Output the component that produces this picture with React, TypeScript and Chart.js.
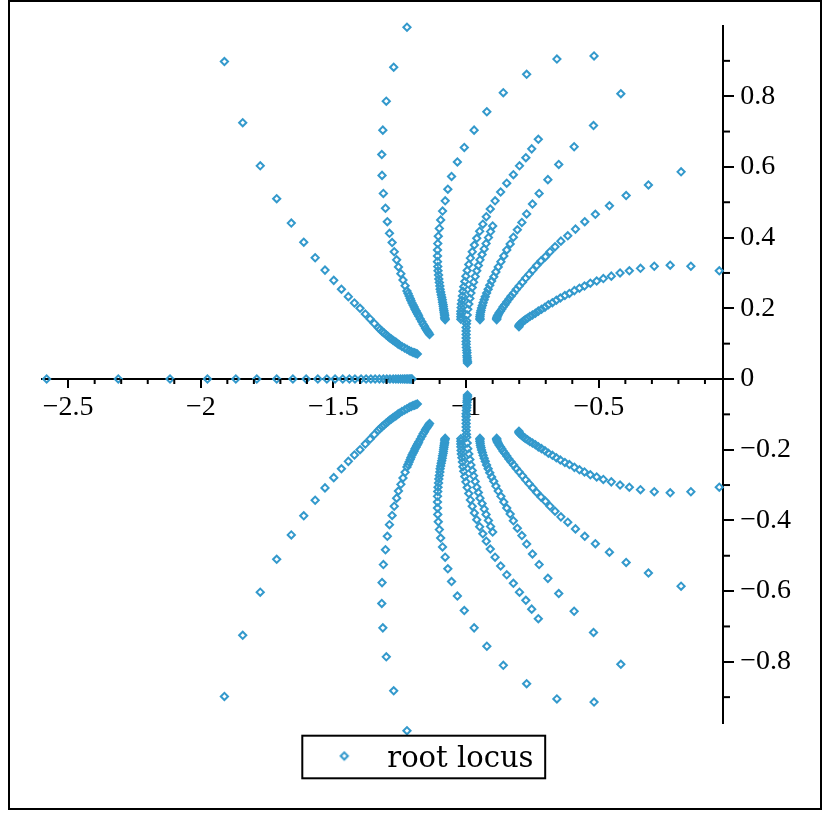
import React, { useEffect, useRef } from 'react';
import { Chart, registerables } from 'chart.js';

Chart.register(...registerables);

// ---- data (upper half-plane branches; the lower half is their complex conjugate) ----
const realAxisRe = [-2.581, -2.311, -2.116, -1.975, -1.868, -1.789, -1.714, -1.653, -1.603, -1.559, -1.525, -1.494, -1.465, -1.44, -1.419, -1.396, -1.377, -1.359, -1.343, -1.327, -1.312, -1.299, -1.287, -1.275, -1.265, -1.256, -1.247, -1.239, -1.232, -1.226, -1.22, -1.215, -1.211, -1.207, -1.204];

const branchARe = [-1.911, -1.842, -1.776, -1.714, -1.659, -1.612, -1.569, -1.532, -1.499, -1.47, -1.444, -1.421, -1.4, -1.38, -1.362, -1.346, -1.331, -1.324, -1.316, -1.309, -1.302, -1.295, -1.289, -1.282, -1.275, -1.269, -1.263, -1.258, -1.252, -1.242, -1.232, -1.223, -1.214, -1.207, -1.2, -1.194, -1.189, -1.184];
const branchAIm = [0.898, 0.725, 0.603, 0.51, 0.441, 0.387, 0.343, 0.308, 0.279, 0.254, 0.233, 0.215, 0.2, 0.184, 0.17, 0.157, 0.145, 0.14, 0.134, 0.13, 0.125, 0.121, 0.117, 0.113, 0.109, 0.106, 0.103, 0.1, 0.097, 0.092, 0.088, 0.084, 0.08, 0.078, 0.075, 0.074, 0.072, 0.071];

const branchBRe = [-1.223, -1.273, -1.301, -1.314, -1.318, -1.317, -1.312, -1.304, -1.297, -1.289, -1.279, -1.271, -1.262, -1.255, -1.246, -1.238, -1.23, -1.223, -1.219, -1.215, -1.211, -1.208, -1.204, -1.2, -1.196, -1.193, -1.189, -1.186, -1.182, -1.179, -1.173, -1.167, -1.162, -1.157, -1.153, -1.148, -1.145, -1.141, -1.138];
const branchBIm = [0.995, 0.882, 0.786, 0.704, 0.635, 0.576, 0.525, 0.483, 0.445, 0.412, 0.386, 0.36, 0.337, 0.317, 0.298, 0.28, 0.264, 0.249, 0.242, 0.235, 0.228, 0.222, 0.215, 0.209, 0.204, 0.198, 0.193, 0.188, 0.183, 0.178, 0.17, 0.162, 0.155, 0.149, 0.143, 0.138, 0.134, 0.13, 0.126];

const branchCRe = [-0.518, -0.658, -0.772, -0.86, -0.922, -0.97, -1.007, -1.033, -1.055, -1.069, -1.079, -1.089, -1.096, -1.101, -1.105, -1.107, -1.108, -1.108, -1.108, -1.107, -1.106, -1.104, -1.103, -1.101, -1.099, -1.098, -1.096, -1.094, -1.092, -1.09, -1.089, -1.087, -1.086, -1.085, -1.084, -1.083, -1.082, -1.081, -1.081, -1.08, -1.079];
const branchCIm = [0.914, 0.905, 0.862, 0.81, 0.756, 0.704, 0.655, 0.614, 0.573, 0.537, 0.504, 0.475, 0.45, 0.426, 0.404, 0.383, 0.365, 0.348, 0.332, 0.318, 0.306, 0.294, 0.283, 0.273, 0.263, 0.254, 0.246, 0.238, 0.231, 0.224, 0.217, 0.211, 0.205, 0.199, 0.194, 0.189, 0.184, 0.18, 0.175, 0.171, 0.168];

const branchDRe = [-0.728, -0.753, -0.775, -0.799, -0.822, -0.847, -0.87, -0.891, -0.909, -0.924, -0.937, -0.949, -0.96, -0.969, -0.977, -0.984, -0.99, -0.996, -1.001, -1.005, -1.009, -1.012, -1.014, -1.016, -1.018, -1.019, -1.02, -1.02, -1.02, -1.02];
const branchDIm = [0.678, 0.651, 0.626, 0.603, 0.578, 0.554, 0.529, 0.504, 0.481, 0.459, 0.438, 0.418, 0.398, 0.379, 0.36, 0.342, 0.324, 0.307, 0.291, 0.276, 0.261, 0.248, 0.235, 0.223, 0.212, 0.202, 0.192, 0.184, 0.176, 0.169];

const branchVRe = [-0.9, -0.908, -0.916, -0.925, -0.932, -0.94, -0.948, -0.954, -0.96, -0.966, -0.972, -0.977, -0.982, -0.986, -0.99, -0.994, -0.996, -0.998, -0.999, -1.0, -1.0, -1.0, -1.0, -1.0, -1.0, -0.999, -0.998, -0.997, -0.997, -0.996, -0.996, -0.995, -0.995];
const branchVIm = [0.433, 0.417, 0.4, 0.383, 0.368, 0.352, 0.337, 0.321, 0.306, 0.29, 0.274, 0.259, 0.243, 0.228, 0.212, 0.197, 0.181, 0.165, 0.156, 0.146, 0.136, 0.126, 0.116, 0.106, 0.098, 0.089, 0.081, 0.074, 0.066, 0.06, 0.054, 0.049, 0.045];

const branchFRe = [-0.417, -0.52, -0.593, -0.651, -0.692, -0.725, -0.75, -0.772, -0.79, -0.807, -0.822, -0.834, -0.847, -0.858, -0.869, -0.879, -0.888, -0.896, -0.904, -0.911, -0.917, -0.923, -0.928, -0.932, -0.936, -0.939, -0.942, -0.944, -0.946, -0.947, -0.948, -0.948, -0.948];
const branchFIm = [0.807, 0.717, 0.657, 0.607, 0.564, 0.525, 0.495, 0.467, 0.443, 0.422, 0.401, 0.382, 0.365, 0.348, 0.332, 0.317, 0.303, 0.289, 0.277, 0.265, 0.254, 0.243, 0.233, 0.224, 0.216, 0.208, 0.201, 0.194, 0.188, 0.182, 0.177, 0.172, 0.168];

const branchGRe = [-0.19, -0.313, -0.397, -0.46, -0.513, -0.553, -0.588, -0.617, -0.643, -0.665, -0.684, -0.701, -0.718, -0.734, -0.749, -0.763, -0.776, -0.788, -0.8, -0.811, -0.821, -0.831, -0.839, -0.847, -0.854, -0.861, -0.866, -0.871, -0.876, -0.879, -0.882, -0.884, -0.885, -0.885];
const branchGIm = [0.586, 0.549, 0.519, 0.49, 0.466, 0.445, 0.424, 0.405, 0.39, 0.374, 0.36, 0.346, 0.334, 0.321, 0.308, 0.296, 0.285, 0.274, 0.263, 0.253, 0.243, 0.234, 0.226, 0.218, 0.21, 0.204, 0.197, 0.192, 0.187, 0.182, 0.178, 0.175, 0.171, 0.168];

const branchHRe = [-0.046, -0.153, -0.231, -0.291, -0.343, -0.385, -0.42, -0.453, -0.483, -0.508, -0.532, -0.554, -0.573, -0.592, -0.611, -0.628, -0.645, -0.66, -0.675, -0.69, -0.703, -0.716, -0.728, -0.739, -0.75, -0.76, -0.769, -0.777, -0.784, -0.79, -0.795, -0.799, -0.801, -0.801];
const branchHIm = [0.306, 0.319, 0.322, 0.319, 0.313, 0.306, 0.3, 0.291, 0.284, 0.277, 0.271, 0.263, 0.257, 0.25, 0.242, 0.236, 0.229, 0.223, 0.216, 0.21, 0.203, 0.197, 0.192, 0.186, 0.181, 0.177, 0.172, 0.168, 0.164, 0.16, 0.157, 0.154, 0.151, 0.148];

const xMajorTicks = [-2.5, -2, -1.5, -1, -0.5];
const xMinorTicks = [-2.4, -2.3, -2.2, -2.1, -1.9, -1.8, -1.7, -1.6, -1.4, -1.3, -1.2, -1.1, -0.9, -0.8, -0.7, -0.6, -0.4, -0.3, -0.2, -0.1];
const yMajorTicks = [-0.8, -0.6, -0.4, -0.2, 0, 0.2, 0.4, 0.6, 0.8];
const yMinorTicks = [-0.9, -0.7, -0.5, -0.3, -0.1, 0.1, 0.3, 0.5, 0.7, 0.9];
const seriesLabel = 'root locus';

const COLOR = '#3399cc';

export default function App() {
  const ref = useRef<HTMLCanvasElement>(null);

  useEffect(() => {
    const canvas = ref.current;
    if (!canvas) return;

    const branches: [number[], number[]][] = [
      [branchARe, branchAIm],
      [branchBRe, branchBIm],
      [branchCRe, branchCIm],
      [branchDRe, branchDIm],
      [branchVRe, branchVIm],
      [branchFRe, branchFIm],
      [branchGRe, branchGIm],
      [branchHRe, branchHIm],
    ];
    const points: { x: number; y: number }[] = [];
    realAxisRe.forEach((x) => points.push({ x, y: 0 }));
    branches.forEach(([re, im]) => {
      re.forEach((x, i) => {
        points.push({ x, y: im[i] });
        points.push({ x, y: -im[i] });
      });
    });

    // legend marker image (diamond, drawn a bit above the text middle)
    const marker = document.createElement('canvas');
    marker.width = 12;
    marker.height = 20;
    const mctx = marker.getContext('2d')!;
    mctx.strokeStyle = COLOR;
    mctx.lineWidth = 2;
    mctx.beginPath();
    mctx.moveTo(2.4, 6.7);
    mctx.lineTo(6, 3.1);
    mctx.lineTo(9.6, 6.7);
    mctx.lineTo(6, 10.3);
    mctx.closePath();
    mctx.stroke();

    const fmt = (v: number) => String(Math.round(v * 10) / 10).replace('-', '\u2212');

    const legendItemX = 305.8;
    const legendShiftY = -6;

    const extras = {
      id: 'extras',
      afterLayout(chart: any) {
        const lg = chart.legend;
        if (!lg) return;
        const pad = lg.options.labels.padding;
        const w = lg.right - lg.left;
        lg.left = legendItemX - pad;
        lg.right = lg.left + w;
        lg.top += legendShiftY;
        lg.bottom += legendShiftY;
      },
      afterDraw(chart: any) {
        const ctx = chart.ctx;
        const xs = chart.scales.x;
        const ys = chart.scales.y;
        ctx.save();
        ctx.strokeStyle = '#000';
        ctx.lineWidth = 2;
        const y0 = ys.getPixelForValue(0);
        xMinorTicks.forEach((v) => {
          const px = xs.getPixelForValue(v);
          ctx.beginPath();
          ctx.moveTo(px, y0);
          ctx.lineTo(px, y0 + 5);
          ctx.stroke();
        });
        const x0 = ys.left;
        yMinorTicks.forEach((v) => {
          const py = ys.getPixelForValue(v);
          ctx.beginPath();
          ctx.moveTo(x0, py);
          ctx.lineTo(x0 + 7, py);
          ctx.stroke();
        });
        const lg = chart.legend;
        if (lg && lg.legendHitBoxes && lg.legendHitBoxes[0]) {
          const hb = lg.legendHitBoxes[0];
          ctx.strokeRect(hb.left - 13.5, hb.top - 9.1, hb.width + 25.2, 42.6);
        }
        ctx.restore();
      },
    };

    const chart = new Chart(canvas, {
      type: 'scatter',
      data: {
        datasets: [
          {
            label: seriesLabel,
            data: points,
            pointStyle: 'rectRot',
            pointRadius: 3.6,
            pointHoverRadius: 14,
            pointBorderWidth: 2,
            pointBorderColor: COLOR,
            pointBackgroundColor: 'rgba(0,0,0,0)',
            borderColor: COLOR,
            backgroundColor: 'rgba(0,0,0,0)',
            showLine: false,
            clip: false,
          } as any,
        ],
      },
      options: {
        responsive: false,
        animation: false,
        events: [],
        layout: { padding: { left: 31.6, top: 23.5, right: 0, bottom: 18.2 } },
        scales: {
          x: {
            type: 'linear',
            position: { y: 0 } as any,
            min: -2.6,
            max: -0.032,
            afterBuildTicks: (s: any) => {
              s.ticks = xMajorTicks.map((value) => ({ value }));
            },
            afterFit: (s: any) => {
              s.height = 0;
              s.paddingLeft = 0;
              s.paddingRight = 0;
            },
            ticks: {
              autoSkip: false,
              maxRotation: 0,
              padding: 4,
              color: '#000',
              font: { family: 'Liberation Serif', size: 28 },
              callback: (v: any) => fmt(Number(v)),
            },
            grid: { drawOnChartArea: false, drawTicks: true, tickLength: 8, lineWidth: 2, color: '#000' },
            border: { display: true, color: '#000', width: 2 },
          },
          y: {
            type: 'linear',
            position: 'right',
            min: -0.972,
            max: 1.0,
            afterBuildTicks: (s: any) => {
              s.ticks = yMajorTicks.map((value) => ({ value }));
            },
            afterFit: (s: any) => {
              s.width = 97;
              s.paddingTop = 0;
              s.paddingBottom = 0;
            },
            ticks: {
              autoSkip: false,
              padding: 6.3,
              color: '#000',
              font: { family: 'Liberation Serif', size: 28 },
              callback: (v: any) => fmt(Number(v)),
            },
            grid: { drawOnChartArea: false, drawTicks: true, tickLength: 11, lineWidth: 2, color: '#000' },
            border: { display: true, color: '#000', width: 2 },
          },
        },
        plugins: {
          tooltip: { enabled: false },
          legend: {
            display: true,
            position: 'bottom',
            align: 'start',
            labels: {
              usePointStyle: true,
              pointStyle: marker as any,
              pointStyleWidth: 57,
              boxHeight: 29,
              padding: 28.2,
              color: '#000',
              font: { family: 'DejaVu Serif', size: 29 },
            },
          },
        },
      },
      plugins: [extras],
    });

    return () => chart.destroy();
  }, []);

  return (
    <div
      style={{
        position: 'absolute',
        left: 8,
        top: 0,
        width: 814,
        height: 810,
        border: '2px solid #000',
        boxSizing: 'border-box',
        background: '#fff',
      }}
    >
      <canvas ref={ref} width={810} height={806} style={{ display: 'block', width: 810, height: 806 }} />
    </div>
  );
}
